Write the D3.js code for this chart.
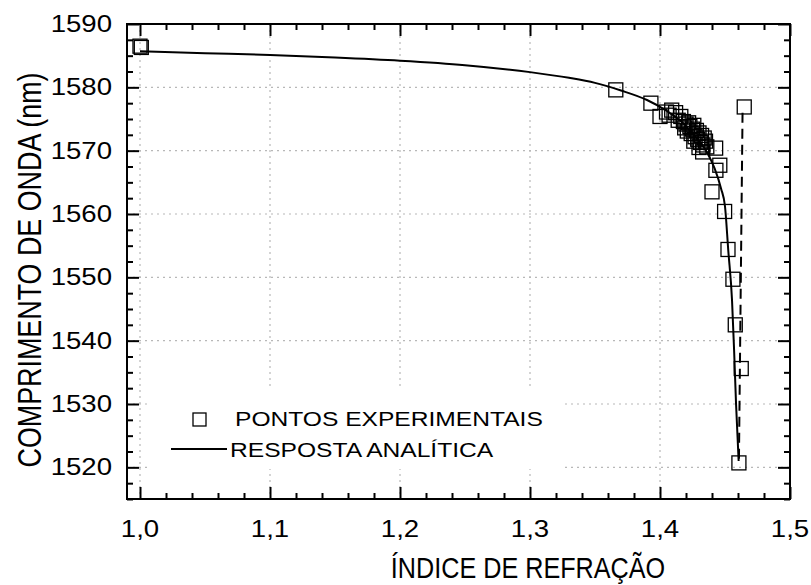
<!DOCTYPE html>
<html><head><meta charset="utf-8">
<script src="https://cdn.jsdelivr.net/npm/d3@7"></script>
<style>body{margin:0;background:#fff}svg{display:block}</style>
</head><body>
<svg id="c" width="811" height="585"></svg>
<script>
// ---- data ----
const expN = [1.000, 1.001, 1.366, 1.393, 1.400, 1.405, 1.407, 1.412, 1.409, 1.416, 1.414,
  1.418, 1.420, 1.419, 1.422, 1.423, 1.421, 1.425, 1.424, 1.426, 1.427, 1.428, 1.429, 1.430,
  1.431, 1.432, 1.433, 1.434, 1.435, 1.436, 1.426, 1.430,
  1.4428, 1.4328, 1.446, 1.443, 1.440, 1.4497, 1.4523, 1.4561, 1.4579, 1.4625, 1.4607, 1.4648];
const expW = [1586.5, 1586.3, 1579.6, 1577.5, 1575.4, 1576.1, 1575.6, 1576.0, 1576.4, 1575.4, 1574.8,
  1574.6, 1574.2, 1573.6, 1574.4, 1573.8, 1573.1, 1573.4, 1572.7, 1574.0, 1572.2, 1573.2, 1571.8, 1572.8,
  1571.3, 1572.4, 1570.9, 1572.0, 1571.5, 1570.6, 1571.5, 1570.5,
  1570.4, 1569.8, 1567.7, 1566.9, 1563.5, 1560.4, 1554.4, 1549.7, 1542.5, 1535.6, 1520.7, 1576.9];
const fitN = [1.000, 1.05, 1.10, 1.15, 1.20, 1.25, 1.30, 1.33, 1.35, 1.37, 1.39, 1.405, 1.418,
  1.428, 1.436, 1.442, 1.447, 1.450, 1.4525, 1.4554, 1.457, 1.4585, 1.4605];
const fitW = [1585.7, 1585.4, 1585.1, 1584.7, 1584.2, 1583.5, 1582.4, 1581.5, 1580.7, 1579.5, 1578.0,
  1576.3, 1574.3, 1572.0, 1569.8, 1567.2, 1564.0, 1561.2, 1554.3, 1546.4, 1538.5, 1530.0, 1521.0];
const dashN = [1.4635, 1.4607];
const dashW = [1576.0, 1520.7];
const xTicks = [1.0, 1.1, 1.2, 1.3, 1.4, 1.5];
const xTickLabels = ["1,0", "1,1", "1,2", "1,3", "1,4", "1,5"];
const yTicks = [1520, 1530, 1540, 1550, 1560, 1570, 1580, 1590];
const xTitle = "ÍNDICE DE REFRAÇÃO";
const yTitle = "COMPRIMENTO DE ONDA (nm)";
const legendLabels = ["PONTOS EXPERIMENTAIS", "RESPOSTA ANALÍTICA"];

// ---- layout ----
const L = 127, R = 790, T = 24, B = 499;
const svg = d3.select("#c");
const x = d3.scaleLinear().domain([0.99, 1.5]).range([L, R]);
const y = d3.scaleLinear().domain([1515, 1590]).range([B, T]);
const font = "'Liberation Sans', Arial, sans-serif";

// grid
const grid = svg.append("g").attr("stroke", "#b8b8b8").attr("stroke-width", 1.2)
  .attr("stroke-dasharray", "2,4");
grid.selectAll("line.v").data(xTicks.filter(d => d < 1.5)).join("line")
  .attr("x1", d => x(d)).attr("x2", d => x(d)).attr("y1", T).attr("y2", B);
grid.selectAll("line.h").data(yTicks.filter(d => d < 1590)).join("line")
  .attr("x1", L).attr("x2", R).attr("y1", d => y(d)).attr("y2", d => y(d));

// legend background (hides grid)
svg.append("rect").attr("x", 150).attr("y", 390).attr("width", 415).attr("height", 79).attr("fill", "#fff");

// axes with inward ticks
const xMinor = d3.range(1.0, 1.5001, 0.02).filter(v => Math.abs(v * 10 - Math.round(v * 10)) > 1e-6);
const yMinor = d3.range(1515, 1590.01, 2.5).filter(v => v % 10 !== 0);
function tickAxis(axisFn, scale, vals, size) {
  return axisFn(scale).tickValues(vals).tickSize(size).tickFormat("");
}
const axG = svg.append("g");
[[d3.axisTop, B, 12, xTicks], [d3.axisTop, B, 6, xMinor], [d3.axisBottom, T, 12, xTicks], [d3.axisBottom, T, 6, xMinor]]
  .forEach(([fn, pos, sz, vals]) => {
    const g = axG.append("g").attr("transform", `translate(0,${pos})`).call(tickAxis(fn, x, vals, sz));
    g.select(".domain").remove();
    g.selectAll("line").attr("stroke", "#000").attr("stroke-width", 2);
  });
[[d3.axisRight, L, 12, yTicks], [d3.axisRight, L, 6, yMinor], [d3.axisLeft, R, 12, yTicks], [d3.axisLeft, R, 6, yMinor]]
  .forEach(([fn, pos, sz, vals]) => {
    const g = axG.append("g").attr("transform", `translate(${pos},0)`).call(tickAxis(fn, y, vals, sz));
    g.select(".domain").remove();
    g.selectAll("line").attr("stroke", "#000").attr("stroke-width", 2);
  });
svg.append("rect").attr("x", L).attr("y", T).attr("width", R - L).attr("height", B - T)
  .attr("fill", "none").attr("stroke", "#000").attr("stroke-width", 2);

// tick labels
svg.append("g").selectAll("text").data(xTicks).join("text")
  .attr("transform", d => `translate(${x(d)},537) scale(1.2,1)`)
  .attr("text-anchor", "middle").attr("font-family", font).attr("font-size", 23)
  .text((d, i) => xTickLabels[i]);
svg.append("g").selectAll("text").data(yTicks).join("text")
  .attr("transform", d => `translate(112,${y(d) + 8}) scale(1.2,1)`)
  .attr("text-anchor", "end").attr("font-family", font).attr("font-size", 23)
  .text(d => d);

// titles
svg.append("text").attr("transform", `translate(528,578) scale(0.84,1)`)
  .attr("text-anchor", "middle").attr("font-family", font).attr("font-size", 30).text(xTitle);
svg.append("text").attr("transform", `translate(41,270) rotate(-90) scale(0.96,1.2)`)
  .attr("text-anchor", "middle").attr("font-family", font).attr("font-size", 28).text(yTitle);

// clip
svg.append("clipPath").attr("id", "clip").append("rect").attr("x", L).attr("y", T).attr("width", R - L).attr("height", B - T);
const plot = svg.append("g").attr("clip-path", "url(#clip)");

// analytic curve
const line = d3.line().x(d => x(d[0])).y(d => y(d[1])).curve(d3.curveMonotoneX);
plot.append("path").datum(fitN.map((n, i) => [n, fitW[i]])).attr("d", line)
  .attr("fill", "none").attr("stroke", "#000").attr("stroke-width", 2);
// dashed line
plot.append("path").datum(dashN.map((n, i) => [n, dashW[i]])).attr("d", d3.line().x(d => x(d[0])).y(d => y(d[1])))
  .attr("fill", "none").attr("stroke", "#000").attr("stroke-width", 2).attr("stroke-dasharray", "10,6");

// experimental squares
const S = 14;
plot.selectAll("rect.pt").data(expN.map((n, i) => [n, expW[i]])).join("rect")
  .attr("x", d => x(d[0]) - S / 2).attr("y", d => y(d[1]) - S / 2).attr("width", S).attr("height", S)
  .attr("fill", "none").attr("stroke", "#000").attr("stroke-width", 1.3);

// legend
svg.append("rect").attr("x", 193).attr("y", 413).attr("width", 13).attr("height", 13)
  .attr("fill", "none").attr("stroke", "#000").attr("stroke-width", 1.3);
svg.append("line").attr("x1", 171).attr("x2", 227).attr("y1", 449).attr("y2", 449)
  .attr("stroke", "#000").attr("stroke-width", 2);
svg.append("text").attr("transform", "translate(235,426) scale(1.2,1)").attr("font-family", font)
  .attr("font-size", 20.5).text(legendLabels[0]);
svg.append("text").attr("transform", "translate(230,457) scale(1.2,1)").attr("font-family", font)
  .attr("font-size", 20.5).text(legendLabels[1]);
</script>
</body></html>
